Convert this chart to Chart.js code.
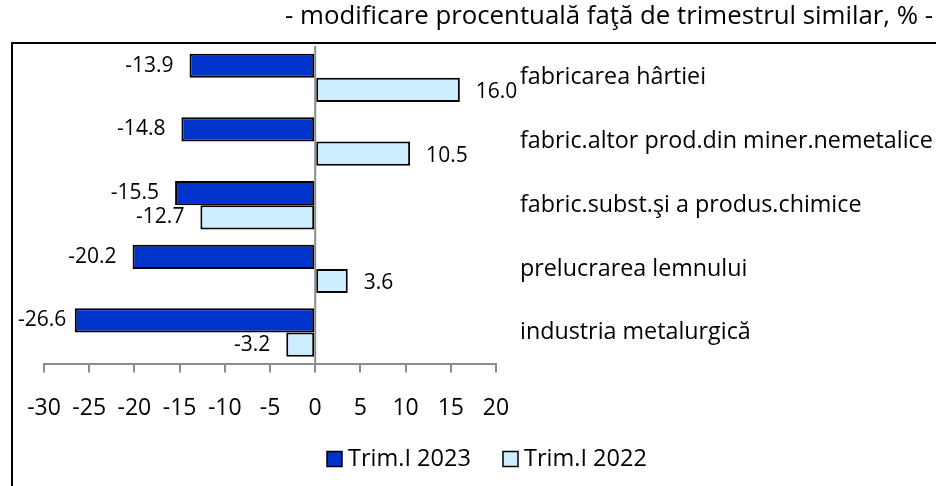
<!DOCTYPE html>
<html>
<head>
<meta charset="utf-8">
<script src="https://cdn.jsdelivr.net/npm/chart.js@4"></script>
<style>
  html, body { margin: 0; padding: 0; background: #fff; }
  #wrap { width: 936px; height: 486px; }
</style>
</head>
<body>
<div id="wrap"><canvas id="chart" width="936" height="486"></canvas></div>
<script>
const categories = [
  'fabricarea hârtiei',
  'fabric.altor prod.din miner.nemetalice',
  'fabric.subst.şi a produs.chimice',
  'prelucrarea lemnului',
  'industria metalurgică'
];
const trim2023 = [-13.9, -14.8, -15.5, -20.2, -26.6];
const trim2022 = [16.0, 10.5, -12.7, 3.6, -3.2];
const xMin = -30;
const xMax = 20;
const xStep = 5;
const subtitle = '- modificare procentuală faţă de trimestrul similar, % -';

const FONT = '"Open Sans", "Noto Sans", sans-serif';

// extra drawing: frame, zero line, value labels, category names, subtitle, legend
const decor = {
  id: 'decor',
  beforeDraw(chart) {
    const ctx = chart.ctx;
    ctx.save();
    ctx.fillStyle = '#fff';
    ctx.fillRect(0, 0, chart.width, chart.height);
    ctx.strokeStyle = '#000';
    ctx.lineWidth = 2;
    ctx.strokeRect(12, 43, chart.width + 10, chart.height + 10);
    ctx.restore();
  },
  afterDatasetsDraw(chart) {
    const ctx = chart.ctx;
    const x = chart.scales.x;
    const area = chart.chartArea;
    ctx.save();
    // zero line
    const x0 = x.getPixelForValue(0);
    ctx.strokeStyle = '#8c8c8c';
    ctx.lineWidth = 2;
    ctx.beginPath();
    ctx.moveTo(x0, area.top);
    ctx.lineTo(x0, area.bottom);
    ctx.stroke();

    // value labels
    ctx.fillStyle = '#000';
    ctx.font = '21px ' + FONT;
    ctx.textBaseline = 'middle';
    chart.data.datasets.forEach((ds, di) => {
      const meta = chart.getDatasetMeta(di);
      meta.data.forEach((bar, i) => {
        const v = ds.data[i];
        const txt = v.toFixed(1);
        if (v < 0) {
          const w = ctx.measureText(txt).width;
          let right = bar.x - 16;
          if (right - w < 18) right = 18 + w;
          ctx.textAlign = 'right';
          ctx.fillText(txt, right, bar.y);
        } else {
          ctx.textAlign = 'left';
          ctx.fillText(txt, bar.x + 16, bar.y + 2);
        }
      });
    });
    ctx.restore();
  },
  afterDraw(chart) {
    const ctx = chart.ctx;
    const y = chart.scales.y;
    ctx.save();
    ctx.fillStyle = '#000';
    ctx.textBaseline = 'middle';

    // category names to the right of the bars
    ctx.font = '23.3px ' + FONT;
    ctx.textAlign = 'left';
    categories.forEach((c, i) => {
      ctx.fillText(c, 520, y.getPixelForValue(i));
    });

    // subtitle
    ctx.font = '25.8px ' + FONT;
    ctx.textAlign = 'right';
    ctx.fillText(subtitle, 933, 17);

    // legend
    ctx.font = '23.5px ' + FONT;
    ctx.textAlign = 'left';
    let lx = 327;
    const ly = 459;
    chart.data.datasets.forEach((ds) => {
      ctx.fillStyle = ds.backgroundColor;
      ctx.fillRect(lx, ly - 7.5, 15, 15);
      ctx.strokeStyle = '#000';
      ctx.lineWidth = 1.5;
      ctx.strokeRect(lx, ly - 7.5, 15, 15);
      ctx.fillStyle = '#000';
      ctx.fillText(ds.label, lx + 21, ly);
      lx += 176;
    });
    ctx.restore();
  }
};

new Chart(document.getElementById('chart').getContext('2d'), {
  type: 'bar',
  data: {
    labels: categories,
    datasets: [
      {
        label: 'Trim.I 2023',
        data: trim2023,
        backgroundColor: '#0033cc',
        borderColor: '#000',
        borderWidth: 2,
        borderSkipped: false,
      },
      {
        label: 'Trim.I 2022',
        data: trim2022,
        backgroundColor: '#cceeff',
        borderColor: '#000',
        borderWidth: 2,
        borderSkipped: false,
      },
    ],
  },
  options: {
    indexAxis: 'y',
    responsive: false,
    animation: false,
    events: [],
    categoryPercentage: 0.76,
    barPercentage: 1,
    layout: {
      padding: { left: 44, right: 440, top: 46, bottom: 42 },
    },
    scales: {
      x: {
        min: xMin,
        max: xMax,
        ticks: {
          stepSize: xStep,
          color: '#000',
          padding: 22,
          font: { family: FONT, size: 23 },
        },
        grid: {
          drawOnChartArea: false,
          drawTicks: true,
          tickLength: 8,
          color: '#8c8c8c',
          lineWidth: 2,
        },
        border: { display: true, color: '#8c8c8c', width: 2 },
      },
      y: {
        display: false,
      },
    },
    plugins: {
      legend: { display: false },
      tooltip: { enabled: false },
    },
  },
  plugins: [decor],
});
</script>
</body>
</html>
